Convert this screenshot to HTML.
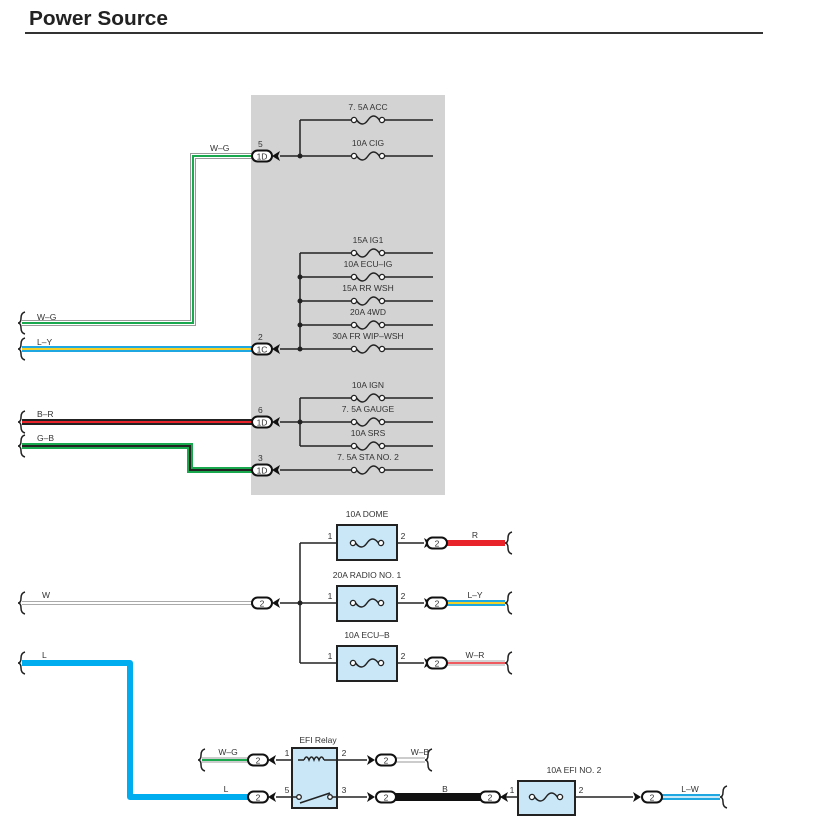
<!DOCTYPE html>
<html><head><meta charset="utf-8"><style>
html,body{margin:0;padding:0;background:#fff;}
svg{display:block;font-family:"Liberation Sans",sans-serif;}
</style></head><body>
<svg width="824" height="830" viewBox="0 0 824 830" xmlns="http://www.w3.org/2000/svg">
<defs>
<g id="f"><circle cx="-14" cy="0" r="2.6" fill="#fff" stroke="#222" stroke-width="1.3"/><circle cx="14" cy="0" r="2.6" fill="#fff" stroke="#222" stroke-width="1.3"/><path d="M-11.4,0 Q-5.5,8 0,0 Q5.5,-8 11.4,0" fill="none" stroke="#222" stroke-width="1.5"/></g>
<g id="c"><rect x="-10" y="-5.5" width="20" height="11" rx="5.5" fill="#fff" stroke="#111" stroke-width="2"/></g>
<polygon id="al" points="0,0 8,-5 6,0 8,5" fill="#111"/>
<polygon id="ar" points="8,0 0,-5 2,0 0,5" fill="#111"/>
<path id="br" d="M5,-11 Q1,-10 1,-5 Q1,0 -2,0 Q1,0 1,5 Q1,10 5,11" fill="none" stroke="#222" stroke-width="1.5"/>
</defs>
<text x="29" y="25" font-size="20" font-weight="bold" fill="#222" textLength="139" lengthAdjust="spacingAndGlyphs">Power Source</text>
<rect x="25" y="32" width="738" height="2" fill="#333"/>

<rect x="251" y="95" width="194" height="400" fill="#d3d3d4"/>

<g stroke="#222" stroke-width="1.5" fill="none">
<path d="M300,120 V156 M300,253 V349 M300,398 V446"/>
<path d="M280,156 H354 M382,156 H433 M300,120 H354 M382,120 H433"/>
<path d="M300,253 H354 M382,253 H433 M300,277 H354 M382,277 H433 M300,301 H354 M382,301 H433 M300,325 H354 M382,325 H433 M280,349 H354 M382,349 H433"/>
<path d="M300,398 H354 M382,398 H433 M280,422 H354 M382,422 H433 M300,446 H354 M382,446 H433 M280,470 H354 M382,470 H433"/>
</g>
<g fill="#222">
<circle cx="300" cy="156" r="2.5"/><circle cx="300" cy="277" r="2.5"/><circle cx="300" cy="301" r="2.5"/><circle cx="300" cy="325" r="2.5"/><circle cx="300" cy="349" r="2.5"/><circle cx="300" cy="422" r="2.5"/>
</g>
<use href="#f" x="368" y="120"/><use href="#f" x="368" y="156"/>
<use href="#f" x="368" y="253"/><use href="#f" x="368" y="277"/><use href="#f" x="368" y="301"/><use href="#f" x="368" y="325"/><use href="#f" x="368" y="349"/>
<use href="#f" x="368" y="398"/><use href="#f" x="368" y="422"/><use href="#f" x="368" y="446"/><use href="#f" x="368" y="470"/>
<g font-size="8.5" fill="#333" text-anchor="middle">
<text x="368" y="110">7. 5A ACC</text><text x="368" y="146">10A CIG</text>
<text x="368" y="243">15A IG1</text><text x="368" y="267">10A ECU–IG</text><text x="368" y="291">15A RR WSH</text><text x="368" y="315">20A 4WD</text><text x="368" y="339">30A FR WIP–WSH</text>
<text x="368" y="388">10A IGN</text><text x="368" y="412">7. 5A GAUGE</text><text x="368" y="436">10A SRS</text><text x="368" y="460">7. 5A STA NO. 2</text>
</g>

<g fill="none" stroke-linejoin="miter">
<path d="M22,323 H193 V156 H252" stroke="#999" stroke-width="6"/>
<path d="M22,323 H193 V156 H252" stroke="#fff" stroke-width="4"/>
<path d="M22,323 H193 V156 H252" stroke="#1aa84f" stroke-width="2"/>
<path d="M22,349 H252" stroke="#1ea7e1" stroke-width="6"/>
<path d="M22,349 H252" stroke="#f2d22a" stroke-width="2"/>
<path d="M22,422 H252" stroke="#222" stroke-width="6"/>
<path d="M22,422 H252" stroke="#e8242a" stroke-width="2"/>
<path d="M22,446 H190 V470 H252" stroke="#1aa84f" stroke-width="6"/>
<path d="M22,446 H190 V470 H252" stroke="#222" stroke-width="2"/>
</g>
<use href="#br" x="20" y="323"/><use href="#br" x="20" y="349"/><use href="#br" x="20" y="422"/><use href="#br" x="20" y="446"/>
<g font-size="8.5" fill="#333">
<text x="37" y="320">W–G</text><text x="37" y="345">L–Y</text><text x="37" y="417">B–R</text><text x="37" y="441">G–B</text>
<text x="210" y="151">W–G</text>
<text x="258" y="147">5</text><text x="258" y="340">2</text><text x="258" y="413">6</text><text x="258" y="461">3</text>
</g>
<g font-size="8.5" fill="#333" text-anchor="middle">
<use href="#c" x="262" y="156"/><text x="262" y="159.5">1D</text><use href="#al" x="272" y="156"/>
<use href="#c" x="262" y="349"/><text x="262" y="352.5">1C</text><use href="#al" x="272" y="349"/>
<use href="#c" x="262" y="422"/><text x="262" y="425.5">1D</text><use href="#al" x="272" y="422"/>
<use href="#c" x="262" y="470"/><text x="262" y="473.5">1D</text><use href="#al" x="272" y="470"/>
</g>

<path d="M22,603 H252" stroke="#aaa" stroke-width="4" fill="none"/>
<path d="M22,603 H252" stroke="#fff" stroke-width="2" fill="none"/>
<use href="#br" x="20" y="603"/>
<text x="42" y="598" font-size="8.5" fill="#333">W</text>
<g stroke="#222" stroke-width="1.5" fill="none">
<path d="M280,603 H337 M300,543 V663 M300,543 H337 M300,663 H337"/>
<path d="M397,543 H424 M397,603 H424 M397,663 H424"/>
</g>
<circle cx="300" cy="603" r="2.5" fill="#222"/>
<g fill="#c9e7f7" stroke="#222" stroke-width="2">
<rect x="337" y="525" width="60" height="35"/><rect x="337" y="586" width="60" height="35"/><rect x="337" y="646" width="60" height="35"/>
</g>
<use href="#f" x="367" y="543"/><use href="#f" x="367" y="603"/><use href="#f" x="367" y="663"/>
<path d="M447,543 H505" stroke="#e8242a" stroke-width="6"/>
<path d="M447,603 H505" stroke="#1ea7e1" stroke-width="6"/><path d="M447,603 H505" stroke="#f2d22a" stroke-width="2"/>
<path d="M447,663 H505" stroke="#aaa" stroke-width="5"/><path d="M447,663 H505" stroke="#fff" stroke-width="3"/><path d="M447,663 H505" stroke="#e8242a" stroke-width="1.5"/>
<use href="#br" x="507" y="543"/><use href="#br" x="507" y="603"/><use href="#br" x="507" y="663"/>
<g font-size="8.5" fill="#333" text-anchor="middle">
<text x="367" y="517">10A DOME</text><text x="367" y="578">20A RADIO NO. 1</text><text x="367" y="638">10A ECU–B</text>
<text x="330" y="539">1</text><text x="330" y="599">1</text><text x="330" y="659">1</text>
<text x="403" y="539">2</text><text x="403" y="599">2</text><text x="403" y="659">2</text>
<text x="475" y="538">R</text><text x="475" y="598">L–Y</text><text x="475" y="658">W–R</text>
<use href="#c" x="262" y="603"/><text x="262" y="606.5">2</text><use href="#al" x="272" y="603"/>
<use href="#ar" x="424" y="543"/><use href="#c" x="437" y="543"/><text x="437" y="546.5">2</text>
<use href="#ar" x="424" y="603"/><use href="#c" x="437" y="603"/><text x="437" y="606.5">2</text>
<use href="#ar" x="424" y="663"/><use href="#c" x="437" y="663"/><text x="437" y="666.5">2</text>
</g>

<path d="M22,663 H130 V797 H248" stroke="#00aeef" stroke-width="6" fill="none" stroke-linejoin="round"/>
<use href="#br" x="20" y="663"/>
<text x="42" y="658" font-size="8.5" fill="#333">L</text>
<path d="M202,760 H248" stroke="#999" stroke-width="5" fill="none"/><path d="M202,760 H248" stroke="#fff" stroke-width="3" fill="none"/><path d="M202,760 H248" stroke="#1aa84f" stroke-width="2" fill="none"/>
<use href="#br" x="200" y="760"/>
<path d="M396,760 H425" stroke="#999" stroke-width="5" fill="none"/><path d="M396,760 H425" stroke="#fff" stroke-width="3" fill="none"/>
<use href="#br" x="427" y="760"/>
<g stroke="#222" stroke-width="1.5" fill="none">
<path d="M276,760 H367 M276,797 H367 M500,797 H518 M575,797 H633"/>
</g>
<rect x="292" y="748" width="45" height="60" fill="#c9e7f7" stroke="#222" stroke-width="2"/>
<path d="M304,760 q2.5,-6 5,0 q2.5,-6 5,0 q2.5,-6 5,0 q2.5,-6 5,0" fill="#c9e7f7" stroke="#222" stroke-width="1.5"/>
<path d="M298,760 H304 M324,760 H336" stroke="#222" stroke-width="1.5"/>
<path d="M300,803 L330,793" stroke="#222" stroke-width="1.5"/>
<circle cx="299" cy="797" r="2.3" fill="#fff" stroke="#222" stroke-width="1.3"/><circle cx="330" cy="797" r="2.3" fill="#fff" stroke="#222" stroke-width="1.3"/>
<path d="M292,797 H297 M332,797 H337" stroke="#222" stroke-width="1.5"/>
<path d="M395,797 H482" stroke="#111" stroke-width="8"/>
<rect x="518" y="781" width="57" height="34" fill="#c9e7f7" stroke="#222" stroke-width="2"/>
<use href="#f" x="546" y="797"/>
<path d="M662,797 H720" stroke="#1ea7e1" stroke-width="6"/><path d="M662,797 H720" stroke="#fff" stroke-width="1.5"/>
<use href="#br" x="722" y="797"/>
<g font-size="8.5" fill="#333" text-anchor="middle">
<text x="318" y="743">EFI Relay</text>
<text x="287" y="756">1</text><text x="344" y="756">2</text><text x="287" y="793">5</text><text x="344" y="793">3</text>
<text x="228" y="755">W–G</text><text x="226" y="792">L</text>
<text x="420" y="755">W–B</text><text x="445" y="792">B</text>
<text x="574" y="773">10A EFI NO. 2</text>
<text x="512" y="793">1</text><text x="581" y="793">2</text>
<text x="690" y="792">L–W</text>
<use href="#c" x="258" y="760"/><text x="258" y="763.5">2</text><use href="#al" x="268" y="760"/>
<use href="#c" x="258" y="797"/><text x="258" y="800.5">2</text><use href="#al" x="268" y="797"/>
<use href="#ar" x="367" y="760"/><use href="#c" x="386" y="760"/><text x="386" y="763.5">2</text>
<use href="#ar" x="367" y="797"/><use href="#c" x="386" y="797"/><text x="386" y="800.5">2</text>
<use href="#c" x="490" y="797"/><text x="490" y="800.5">2</text><use href="#al" x="500" y="797"/>
<use href="#ar" x="633" y="797"/><use href="#c" x="652" y="797"/><text x="652" y="800.5">2</text>
</g>
</svg>
</body></html>
